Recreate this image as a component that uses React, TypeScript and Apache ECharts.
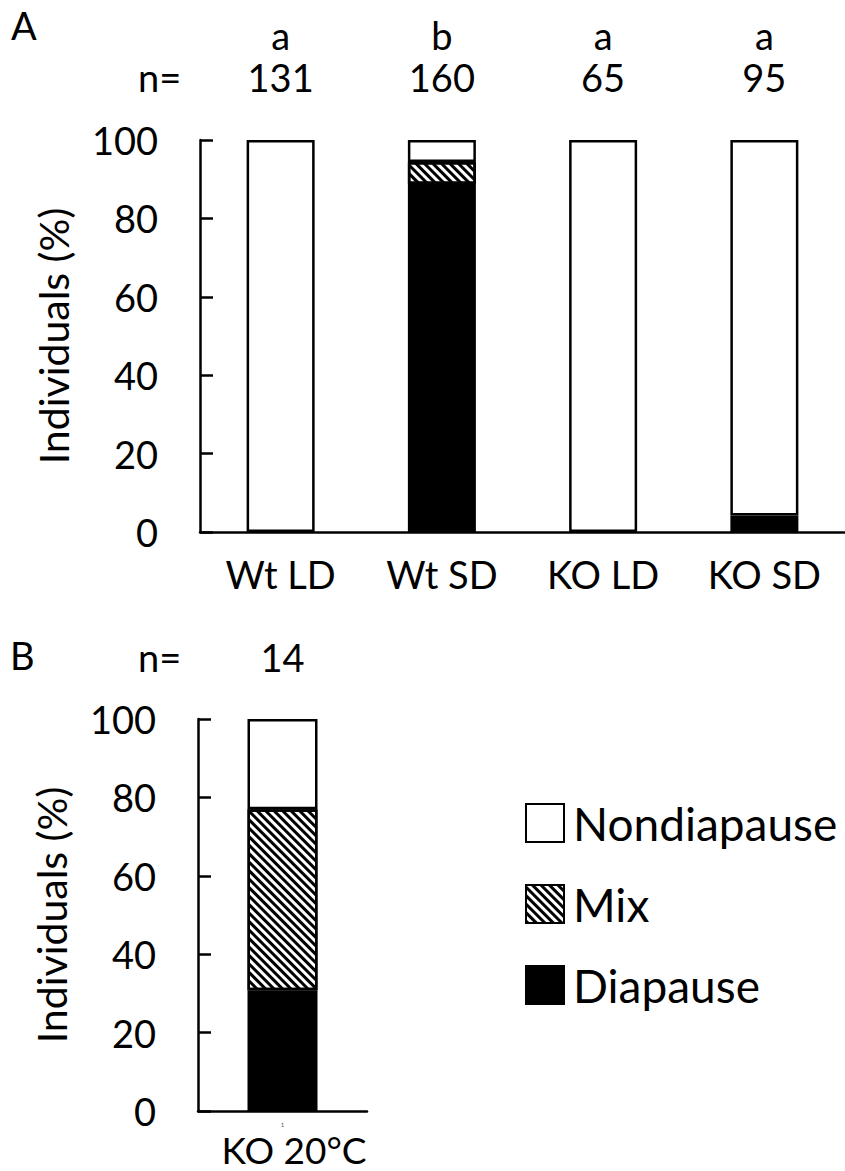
import React, { useEffect, useRef } from "react";
import * as echarts from "echarts";

// Panel A: photoperiod treatments
const categoriesA = ["Wt LD", "Wt SD", "KO LD", "KO SD"];
const diapauseA = [0, 88.75, 0, 4.21];
const mixA = [0, 5.63, 0, 0];
const nondiapauseA = [100, 5.62, 100, 95.79];
const lettersA = ["a", "b", "a", "a"];
const countsA = [131, 160, 65, 95];

// Panel B: KO at 20°C
const categoriesB = ["1"];
const labelB = "KO 20°C";
const diapauseB = [30.8];
const mixB = [46.2];
const nondiapauseB = [23.0];
const countsB = [14];

const yTicks = { min: 0, max: 100, interval: 20 };
const seriesNames = ["Nondiapause", "Mix", "Diapause"];

const FONT = "Lato, 'Noto Sans', sans-serif";
const INK = "#000";

const hatch = {
  symbol: "rect",
  color: INK,
  backgroundColor: "#fff",
  dashArrayX: [1, 0],
  dashArrayY: [2.6, 2.4],
  symbolSize: 1,
  rotation: Math.PI / 4,
};

export default function App() {
  const ref = useRef<HTMLDivElement>(null);

  useEffect(() => {
    document.body.style.margin = "0";
    const chart = echarts.init(ref.current!, null, { renderer: "svg" });

    const yAxisCommon = (gridIndex: number) => ({
      type: "value",
      gridIndex,
      min: yTicks.min,
      max: yTicks.max,
      interval: yTicks.interval,
      name: "Individuals (%)",
      nameLocation: "middle",
      nameGap: 126,
      nameTextStyle: { fontSize: 41, color: INK, fontFamily: FONT },
      axisLine: { show: true, lineStyle: { color: INK, width: 2.5 } },
      axisTick: { show: true, inside: true, length: 13, lineStyle: { color: INK, width: 2.5 } },
      axisLabel: { fontSize: 38, color: INK, fontFamily: FONT, margin: 42 },
      splitLine: { show: false },
    });

    const barStyle = (color: string, decal?: any) => ({
      color,
      borderColor: INK,
      borderWidth: 2.5,
      ...(decal ? { decal } : {}),
    });

    // empty segments are left out so they draw no outline on the baseline
    const makeSeries = (
      name: string,
      data: number[],
      xAxisIndex: number,
      yAxisIndex: number,
      stack: string,
      width: number
    ) => ({
      type: "bar",
      name,
      data: data.map((v) => (v === 0 ? "-" : v)),
      xAxisIndex,
      yAxisIndex,
      stack,
      barWidth: width,
      itemStyle:
        name === "Diapause"
          ? barStyle(INK)
          : name === "Mix"
          ? barStyle("#fff", hatch)
          : barStyle("#fff"),
    });

    chart.setOption({
      animation: false,
      backgroundColor: "#fff",
      textStyle: { fontFamily: FONT, color: INK },
      grid: [
        { left: 200, top: 140, width: 668, height: 392 },
        { left: 198, top: 719, width: 169, height: 392 },
      ],
      xAxis: [
        {
          type: "category",
          gridIndex: 0,
          data: categoriesA,
          axisLine: { lineStyle: { color: INK, width: 2.5 } },
          axisTick: { show: false },
          axisLabel: { fontSize: 38, color: INK, fontFamily: FONT, margin: 23 },
        },
        {
          type: "category",
          gridIndex: 0,
          position: "top",
          data: categoriesA,
          axisLine: { show: false },
          axisTick: { show: false },
          axisLabel: {
            margin: 42,
            formatter: (_v: string, i: number) => `{l|${lettersA[i]}}\n{n|${countsA[i]}}`,
            rich: {
              l: { fontSize: 38, lineHeight: 42, color: INK, fontFamily: FONT },
              n: { fontSize: 38, lineHeight: 42, color: INK, fontFamily: FONT },
            },
          },
        },
        {
          type: "category",
          gridIndex: 1,
          data: categoriesB,
          axisLine: { lineStyle: { color: INK, width: 2.5 } },
          axisTick: { show: false },
          axisLabel: { fontSize: 6, lineHeight: 7, color: "#555", fontFamily: FONT, margin: 10 },
        },
        {
          type: "category",
          gridIndex: 1,
          position: "top",
          data: categoriesB,
          axisLine: { show: false },
          axisTick: { show: false },
          axisLabel: {
            margin: 43,
            formatter: (_v: string, i: number) => `${countsB[i]}`,
            fontSize: 38,
            color: INK,
            fontFamily: FONT,
          },
        },
      ],
      yAxis: [yAxisCommon(0), yAxisCommon(1)],
      legend: {
        data: seriesNames,
        orient: "vertical",
        left: 520,
        top: 795,
        itemWidth: 38,
        itemHeight: 38,
        itemGap: 35,
        icon: "rect",
        selectedMode: false,
        textStyle: { fontSize: 46, color: INK, fontFamily: FONT, padding: [0, 0, 0, 4] },
      },
      graphic: [
        { type: "text", left: 11, top: 6, style: { text: "A", fontSize: 38, fill: INK, fontFamily: FONT } },
        { type: "text", left: 10, top: 636, style: { text: "B", fontSize: 38, fill: INK, fontFamily: FONT } },
        { type: "text", left: 138, top: 58, style: { text: "n=", fontSize: 38, fill: INK, fontFamily: FONT } },
        { type: "text", left: 138, top: 638, style: { text: "n=", fontSize: 38, fill: INK, fontFamily: FONT } },
        {
          type: "text",
          x: 294,
          y: 1149,
          style: {
            text: labelB,
            fontSize: 37,
            lineHeight: 30,
            fill: INK,
            fontFamily: FONT,
            align: "center",
            verticalAlign: "middle",
          },
        },
      ],
      series: [
        makeSeries("Diapause", diapauseA, 0, 0, "A", 68),
        makeSeries("Mix", mixA, 0, 0, "A", 68),
        makeSeries("Nondiapause", nondiapauseA, 0, 0, "A", 68),
        makeSeries("Diapause", diapauseB, 2, 1, "B", 70),
        makeSeries("Mix", mixB, 2, 1, "B", 70),
        makeSeries("Nondiapause", nondiapauseB, 2, 1, "B", 70),
      ],
    });

    return () => chart.dispose();
  }, []);

  return <div ref={ref} style={{ width: 845, height: 1171 }} />;
}
